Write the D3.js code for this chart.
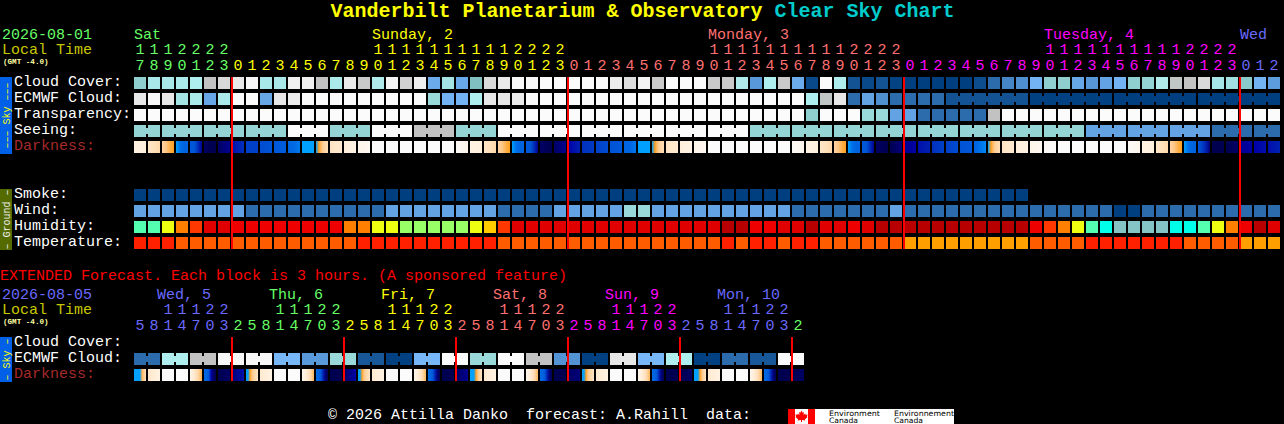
<!DOCTYPE html>
<html><head><meta charset="utf-8">
<script src="https://cdn.jsdelivr.net/npm/d3@7/dist/d3.min.js"></script>
<style>
html,body{margin:0;padding:0;background:#000;overflow:hidden}
svg{display:block}
text{font-family:"Liberation Mono",monospace;font-size:15px;white-space:pre}
</style></head><body>
<script>
const chartTitle = "Vanderbilt Planetarium & Observatory";
const chartSubtitle = "Clear Sky Chart";
const extendedNote = "EXTENDED Forecast. Each block is 3 hours. (A sponsored feature)";
const footerText = "© 2026 Attilla Danko  forecast: A.Rahill  data:";
const skyLabels = ["Cloud Cover:", "ECMWF Cloud:", "Transparency:", "Seeing:", "Darkness:"];
const groundLabels = ["Smoke:", "Wind:", "Humidity:", "Temperature:"];
const extLabels = ["Cloud Cover:", "ECMWF Cloud:", "Darkness:"];

// hourly forecast, one value per hour, 82 hours
const hours = [17,18,19,20,21,22,23,
 0,1,2,3,4,5,6,7,8,9,10,11,12,13,14,15,16,17,18,19,20,21,22,23,
 0,1,2,3,4,5,6,7,8,9,10,11,12,13,14,15,16,17,18,19,20,21,22,23,
 0,1,2,3,4,5,6,7,8,9,10,11,12,13,14,15,16,17,18,19,20,21,22,23,
 0,1,2];
const dayOfHour = [0,0,0,0,0,0,0,
 1,1,1,1,1,1,1,1,1,1,1,1,1,1,1,1,1,1,1,1,1,1,1,1,
 2,2,2,2,2,2,2,2,2,2,2,2,2,2,2,2,2,2,2,2,2,2,2,2,
 3,3,3,3,3,3,3,3,3,3,3,3,3,3,3,3,3,3,3,3,3,3,3,3,
 4,4,4];
const dayNames = ["Sat","Sunday, 2","Monday, 3","Tuesday, 4","Wed"];
const dayNameHour = [0,17,41,65,79];
const midnightHours = [7,31,55,79];

const cloudCover = [58,67,67,68,70,80,86,90,98,67,67,94,94,80,68,91,82,71,96,84,93,44,65,43,55,86,91,98,98,100,100,
 100,100,100,92,87,96,82,100,100,100,82,82,71,35,70,82,44,5,100,70,10,5,10,2,0,0,0,0,0,7,20,27,30,48,58,58,42,34,40,48,58,59,71,79,80,86,66,64,57,48,37];
const ecmwfCloud = [90,98,90,65,68,42,68,100,100,42,90,92,100,100,100,100,100,100,100,100,100,60,48,48,70,90,90,92,
 100,100,100,100,100,100,100,100,100,100,100,100,100,100,100,100,100,100,100,100,70,79,90,20,40,30,20,20,20,20,
 10,10,10,10,10,10,1,1,1,1,1,1,0,0,0,0,0,0,0,0,0,0,0,0];
const ecmwfRuns = [1,1,1,1,1,1,1,1,1,1,1,1,1,1,1,1,1,1,1,1,1,1,1,1,1,1,1,1,1,1,1,1,1,1,1,1,1,1,1,1,1,1,1,1,1,1,1,1,1,1,1,1,1,1,1,1,1,1,6,6,6,6];
const transparency = [100,100,100,100,100,100,100,100,100,100,100,100,100,100,100,100,100,100,100,100,100,100,100,100,100,100,100,100,100,100,100,
 100,100,100,100,100,100,100,100,100,100,100,100,100,100,100,100,100,58,100,100,100,60,60,40,40,20,20,20,20,20,80,
 100,100,100,100,100,100,100,100,100,100,100,100,100,100,100,100,100,100,100,100];
const seeingRuns = [2,3,3,3,3,3,3,3,3,3,3,3,3,3,3,3,3,3,3,3,3,3,3,3,3,3,3,2];
const seeingByRun = [59,59,59,59,100,59,100,80,59,100,100,100,100,100,100,59,59,59,59,59,59,59,59,40,40,40,20,20];
const darkness = [[1,1.2],[1.8,2.4],[2.6,3,3.6,4],[5,6,6.5,6.5],[7,7,8.5,10.5],[11.5,12,12],[11.5,10.5],
 [9.5,8.5],[8,8],[7.5,7.2],[7,6.8],[6.5,6.3,5.8],[5,5],[5,4,3,2.5,2.2],[2,1.6],[1.3,1],[.8,.4],[0,0],[0,0],[0,0],[0,0],[0,0],[0,0],[.2,.6],[1,1.2],[1.8,2.4],[2.6,3,3.6,4],[5,6,6.5,6.5],[7,7,8.5,10.5],[11.5,12],[11.5,10.5],
 [10,9],[8.5,8.2],[8,7.5],[7.2,7],[6.6,6.4,5.8],[5,5],[5,4,3,2.5,2.2],[2,1.6],[1.3,1],[.8,.4],[0,0],[0,0],[0,0],[0,0],[0,0],[0,0],[.2,.6],[1,1.2],[1.8,2.4],[2.6,3,3.6,4],[5,6,6.5,6.5],[7,7,8.5,10.5],[11.5,12],[12,11],
 [10.5,10],[9.5,9],[8.5,8],[8,7.5],[7.2,7],[6.6,6.2,5.8,5.5],[5,4,3,2.5,2.2],[2,1.6],[1.3,1],[.8,.4],[.2,.1],[0,0],[0,0],[0,0],[0,0],[0,0],[.2,.6],[1,1.2],[1.8,2.4],[2.6,3,3.6,4],[5,6,6.5,6.5],[7,8,9,11],[12,12],[12,11.5],
 [10.5,10],[10,9.5],[9.5,9]];

const smoke = [0,0,0,0,0,0,0,0,0,0,0,0,0,0,0,0,0,0,0,0,0,0,0,0,0,0,0,0,0,0,0,0,0,0,0,0,0,0,0,0,0,0,0,0,0,0,0,0,0,0,0,0,0,0,0,0,0,0,0,0,0,0,0,0];
const wind = [40,40,40,40,40,40,40,40,20,20,20,20,20,20,20,20,20,20,40,40,40,40,40,40,40,40,20,20,20,20,40,40,40,40,40,60,60,
 40,40,40,40,40,40,40,40,40,40,20,20,20,20,20,20,20,40,20,20,20,20,20,20,20,20,20,20,20,20,20,20,20,0,0,20,20,20,20,20,20,20,20,20,20];
const humidity = [57,57,67,77,82,92,92,87,87,87,87,87,87,87,87,77,77,67,67,62,62,62,62,62,67,72,82,92,92,92,92,92,92,92,92,92,92,92,92,92,92,92,
 97,97,87,87,92,92,97,92,92,87,92,97,97,97,97,97,97,97,97,97,97,97,87,82,77,67,57,52,47,47,47,47,52,52,57,67,77,87,97,92];
const temperature = [31,31,31,27,27,27,27,27,27,27,27,27,27,27,27,27,31,31,31,31,31,31,31,31,31,31,27,27,27,27,27,27,27,27,27,27,27,27,27,27,27,27,
 31,27,31,31,27,31,31,27,27,27,27,27,27,23,23,23,23,23,23,23,23,23,27,27,27,27,31,31,31,31,31,31,31,27,27,27,27,23,23,23];

// extended forecast, 48 three-hour columns
const extHours = [5,8,11,14,17,20,23,2,5,8,11,14,17,20,23,2,5,8,11,14,17,20,23,2,5,8,11,14,17,20,23,2,5,8,11,14,17,20,23,2,5,8,11,14,17,20,23,2];
const extDayOfCol = [0,0,0,0,0,0,0,1,1,1,1,1,1,1,1,2,2,2,2,2,2,2,2,3,3,3,3,3,3,3,3,4,4,4,4,4,4,4,4,5,5,5,5,5,5,5,5,6];
const extDayNames = ["Wed, 5","Thu, 6","Fri, 7","Sat, 8","Sun, 9","Mon, 10"];
const extDayNameCol = [1.65,9.65,17.65,25.65,33.65,41.65];
const extMidnightCols = [7,15,23,31,39,47];
const extEcmwf = [20,70,80,98,98,50,35,60,12,1,50,100,60,100,80,32,1,90,50,70,1,20,12,100];
const extDarkness = [
 [5,5,5,5,3.5,2.8,2.2],[1.8,1],[0,0],[0,0],[.8,1.6,2.4,3.6],[6.3,6.5,7,10,11.5,12],[12,11.5],[11,9.5],
 [5,5,4,3,2.6,2.2,2],[1.6,1],[0,0],[0,0],[.6,1.4,2.2,3.4],[6.3,6.5,7,9,11,12],[12,12],[11.5,10],
 [5,5,4,3,2.6,2.2,2],[1.6,1],[0,0],[0,0],[.6,1.4,2.2,3.4],[6.3,6.5,7,9,11,12],[12,12],[11.5,10.5],
 [5,5,5,4,3,2.4,2],[1.6,1],[0,0],[0,0],[.6,1.4,2.2,3.4],[6.3,6.5,7,9,11,12],[12,12],[11.5,11],
 [5,5,4,3,2.6,2.2,2],[1.6,1],[0,0],[0,0],[.6,1.4,2.2,3.4],[6.3,6.5,7,9,11,12],[12,12],[12,11.5],
 [5,5,5,4,3,2.4,2],[1.6,1],[0,0],[0,0],[.6,1.4,2.2,3.4],[6.3,6.5,7,9,11,12],[12,12],[12,11.5]];

const W = 1284, H = 424, CELL = 12, GAP = 2;
const x = d3.scaleLinear().domain([0,82]).range([134,1282]);
const yTop = d3.scalePoint().domain(skyLabels).range([77,141]);
const yGround = d3.scalePoint().domain(groundLabels).range([189,237]);
const yExt = d3.scalePoint().domain(extLabels).range([337,369]);

const palette = d3.scaleLinear()
 .domain([0,10,20,30,40,50,55,60,70,80,90,100])
 .range(["#003f7f","#135393","#2c6cac","#4f8fcf","#63a3e3","#77b7f7","#80c0c0","#99d9d9","#aeeeee","#c2c2c2","#e8e8e8","#fbfbfb"]);
const humidityColor = d3.scaleThreshold()
 .domain([50,55,60,65,70,75,80,85,90,95])
 .range(["#85c5c5","#00ffe8","#55ffb0","#99ff66","#eeff11","#ffcc00","#ff8000","#ff3800","#ee0000","#e00000","#b80000"]);
const temperatureColor = d3.scaleThreshold().domain([25,29]).range(["#ffa000","#ff5c00","#ff2000"]);
const darkColor = d3.scaleLinear()
 .domain([0,1,2,3,4,5,6,7,8,9,10,11,12])
 .range(["#fbfbfb","#fff3e3","#ffe4c4","#ffc888","#ffa020","#00a0ff","#0070e8","#0058d8","#0040c8","#0020b0","#0000a8","#000078","#000050"]);
const dayColors = ["#66ff66","#ffff00","#ff7070","#ff00ff","#6a6aff"];
const extDayColors = ["#6a6aff","#66ff66","#ffff00","#ff7070","#ff00ff","#6a6aff","#66ff66"];

const svg = d3.select("body").append("svg").attr("width",W).attr("height",H).attr("viewBox",[0,0,W,H]);
svg.append("rect").attr("width",W).attr("height",H).attr("fill","#000");
const defs = svg.append("defs");

function label(g,t,px,py,fill,size,weight){
  return g.append("text").attr("x",px).attr("y",py).attr("fill",fill)
   .style("font-size",(size||15)+"px").style("font-weight",weight||"normal").text(t);
}
function runIds(runs){ const o=[]; runs.forEach((n,r)=>d3.range(n).forEach(()=>o.push(r))); return o; }
function expand(runs,vals){ const o=[]; runs.forEach((n,r)=>d3.range(n).forEach(()=>o.push(vals[r]))); return o; }

// blocks of one row; ids joins neighbouring blocks with a narrow bridge
function row(y,values,color,ids){
  const g = svg.append("g");
  g.selectAll("rect.c").data(values).join("rect").attr("class","c")
   .attr("x",(d,i)=>x(i)).attr("y",y).attr("width",CELL).attr("height",CELL)
   .attr("fill",d=>color(d));
  if(ids){
    const links = d3.range(values.length-1).filter(i=>ids[i]===ids[i+1]);
    g.selectAll("rect.l").data(links).join("rect").attr("class","l")
     .attr("x",i=>x(i)+CELL).attr("y",y+3).attr("width",GAP).attr("height",CELL-6)
     .attr("fill",i=>color(values[i]));
  }
}
function darkRow(y,values,pre){
  const g = svg.append("g");
  values.forEach((stops,i)=>{
    const grad = defs.append("linearGradient").attr("id",pre+i);
    grad.selectAll("stop").data(stops).join("stop")
     .attr("offset",(d,k)=>k/(stops.length-1)).attr("stop-color",d=>darkColor(d));
  });
  g.selectAll("rect").data(values).join("rect")
   .attr("x",(d,i)=>x(i)).attr("y",y).attr("width",CELL).attr("height",CELL)
   .attr("fill",(d,i)=>`url(#${pre}${i})`);
}

// title
const tg = svg.append("g");
tg.append("text").attr("x",642.5).attr("y",17).attr("text-anchor","middle")
  .style("font-size","20px").style("font-weight","bold")
  .selectAll("tspan").data([[chartTitle+" ","#ffff00"],[chartSubtitle,"#00cccc"]]).join("tspan")
  .attr("fill",d=>d[1]).text(d=>d[0]);

// hour header
const hg = svg.append("g");
label(hg,"2026-08-01",2,39,"#66ff66");
label(hg,"Local Time",2,54,"#c8c800");
label(hg,"(GMT -4.0)",3,64,"#ffffa0",7.6,"bold");
hg.selectAll("text.day").data(dayNames).join("text").attr("class","day")
  .attr("x",(d,i)=>x(dayNameHour[i])).attr("y",39)
  .attr("fill",(d,i)=>dayColors[i]).text(d=>d);
const hourIdx = d3.range(hours.length);
hg.selectAll("text.t").data(hourIdx.filter(i=>hours[i]>=10)).join("text").attr("class","t")
  .attr("x",i=>x(i)+CELL/2).attr("y",54).attr("text-anchor","middle")
  .attr("fill",i=>dayColors[dayOfHour[i]]).text(i=>Math.floor(hours[i]/10));
hg.selectAll("text.u").data(hourIdx).join("text").attr("class","u")
  .attr("x",i=>x(i)+CELL/2).attr("y",69.5).attr("text-anchor","middle")
  .attr("fill",i=>dayColors[dayOfHour[i]]).text(i=>hours[i]%10);

// side bars
function sideBar(y0,y1,fill,txtFill,t){
  svg.append("rect").attr("x",0).attr("y",y0).attr("width",12).attr("height",y1-y0).attr("fill",fill);
  svg.append("text").attr("transform",`translate(9.5,${(y0+y1)/2}) rotate(-90)`)
   .attr("text-anchor","middle").attr("fill",txtFill).style("font-size","10px").text(t);
}
sideBar(77,154,"#0060e8","#ffff00","––– Sky –––");
sideBar(189,250,"#556b00","#f0f0f0","– Ground –");
sideBar(337,382,"#0060e8","#ffff00","– Sky –");

// row labels
const lg = svg.append("g");
skyLabels.forEach(l=>label(lg,l,14,yTop(l)+9,l==="Darkness:"?"#a52a2a":"#ffffff"));
groundLabels.forEach(l=>label(lg,l,14,yGround(l)+9,"#ffffff"));
extLabels.forEach(l=>label(lg,l,14,yExt(l)+9,l==="Darkness:"?"#a52a2a":"#ffffff"));

// hourly rows
row(yTop("Cloud Cover:"),cloudCover,palette);
row(yTop("ECMWF Cloud:"),ecmwfCloud,palette,runIds(ecmwfRuns));
row(yTop("Transparency:"),transparency,palette);
row(yTop("Seeing:"),expand(seeingRuns,seeingByRun),palette,runIds(seeingRuns));
darkRow(yTop("Darkness:"),darkness,"dk");
row(yGround("Smoke:"),smoke,palette);
row(yGround("Wind:"),wind,palette);
row(yGround("Humidity:"),humidity,humidityColor);
row(yGround("Temperature:"),temperature,temperatureColor);

// midnight lines
svg.append("g").selectAll("rect").data(midnightHours).join("rect")
  .attr("x",d=>x(d)-1).attr("y",77).attr("width",2).attr("height",172).attr("fill","#ff0000");

// extended header
const eg = svg.append("g");
label(eg,extendedNote,0,280,"#ff0000");
label(eg,"2026-08-05",2,299,"#6a6aff");
label(eg,"Local Time",2,314,"#c8c800");
label(eg,"(GMT -4.0)",3,324,"#ffffa0",7.6,"bold");
eg.selectAll("text.day").data(extDayNames).join("text").attr("class","day")
  .attr("x",(d,i)=>x(extDayNameCol[i])).attr("y",299)
  .attr("fill",(d,i)=>extDayColors[i]).text(d=>d);
const extIdx = d3.range(extHours.length);
eg.selectAll("text.t").data(extIdx.filter(i=>extHours[i]>=10)).join("text").attr("class","t")
  .attr("x",i=>x(i)+CELL/2).attr("y",314).attr("text-anchor","middle")
  .attr("fill",i=>extDayColors[extDayOfCol[i]]).text(i=>Math.floor(extHours[i]/10));
eg.selectAll("text.u").data(extIdx).join("text").attr("class","u")
  .attr("x",i=>x(i)+CELL/2).attr("y",329.5).attr("text-anchor","middle")
  .attr("fill",i=>extDayColors[extDayOfCol[i]]).text(i=>extHours[i]%10);

// extended rows: each block spans two columns
const ex = svg.append("g");
ex.selectAll("rect.b").data(extEcmwf).join("rect").attr("class","b")
  .attr("x",(d,i)=>x(i*2)).attr("y",yExt("ECMWF Cloud:")).attr("width",CELL).attr("height",CELL).attr("fill",d=>palette(d));
ex.selectAll("rect.c").data(extEcmwf).join("rect").attr("class","c")
  .attr("x",(d,i)=>x(i*2+1)).attr("y",yExt("ECMWF Cloud:")).attr("width",CELL).attr("height",CELL).attr("fill",d=>palette(d));
ex.selectAll("rect.l").data(extEcmwf).join("rect").attr("class","l")
  .attr("x",(d,i)=>x(i*2)+CELL).attr("y",yExt("ECMWF Cloud:")+3).attr("width",GAP).attr("height",CELL-6).attr("fill",d=>palette(d));
darkRow(yExt("Darkness:"),extDarkness,"ex");
svg.append("g").selectAll("rect").data(extMidnightCols).join("rect")
  .attr("x",d=>x(d)-1).attr("y",337).attr("width",2).attr("height",44).attr("fill","#ff0000");

// footer and logo
label(svg,footerText,328,419,"#ffffff");
const logo = svg.append("g");
logo.append("rect").attr("x",788).attr("y",409).attr("width",166).attr("height",15).attr("fill","#ffffff");
logo.append("rect").attr("x",788).attr("y",409).attr("width",7).attr("height",15).attr("fill","#ff0000");
logo.append("rect").attr("x",808).attr("y",409).attr("width",7).attr("height",15).attr("fill","#ff0000");
logo.append("path").attr("fill","#ff0000")
  .attr("d","M801.5 410.5l1.2 2.2 1.3-.7-.5 3 1.6-1.4.5 1.2 2-.3-.7 2 .8.5-2.8 2.3.4 1.2-3.3-.5v2h-1v-2l-3.3.5.4-1.2-2.8-2.3.8-.5-.7-2 2 .3.5-1.2 1.6 1.4-.5-3 1.3.7z");
[["Environment",829,415.5,51],["Canada",829,423,29],["Environnement",894,415.5,60],["Canada",894,423,29]].forEach(d=>{
  logo.append("text").attr("x",d[1]).attr("y",d[2]).attr("fill","#000")
   .attr("textLength",d[3]).attr("lengthAdjust","spacingAndGlyphs")
   .style("font-family","'DejaVu Sans',sans-serif").style("font-size","7.5px").text(d[0]);
});
</script>
</body></html>
